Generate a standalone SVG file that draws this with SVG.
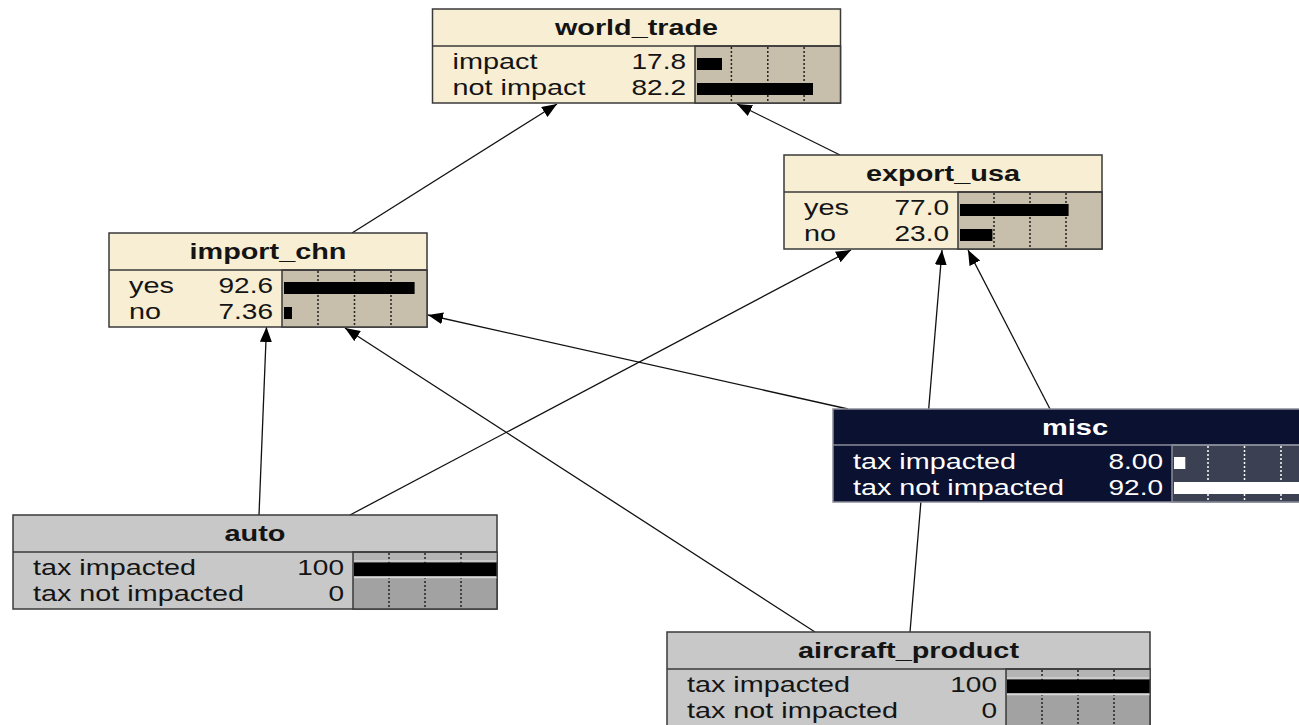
<svg xmlns="http://www.w3.org/2000/svg" width="1299" height="725" viewBox="0 0 1299 725">
<defs>
<style>
.t{font-family:"Liberation Sans",Arial,sans-serif;font-size:21.5px;font-weight:bold;fill:#141414}
.r{font-family:"Liberation Sans",Arial,sans-serif;font-size:22.5px;fill:#141414}
.w{fill:#ffffff}
.cream{fill:#f7eed3;stroke:#3a3a3a;stroke-width:1.5}
.tan{fill:#c7bfab;stroke:#3a3a3a;stroke-width:1.5}
.gray{fill:#c8c8c8;stroke:#3a3a3a;stroke-width:1.5}
.dgray{fill:#a2a2a2;stroke:#3a3a3a;stroke-width:1.5}
.navy{fill:#0b1130;stroke:#8a8c99;stroke-width:1.5}
.slate{fill:#3b4052;stroke:#8a8c99;stroke-width:1.5}
.div{stroke:#3a3a3a;stroke-width:1.5}
.divw{stroke:#8a8c99;stroke-width:1.5}
.tick{stroke:#222;stroke-width:1.5;stroke-dasharray:2 2}
.tickw{stroke:#ffffff;stroke-width:1.5;stroke-dasharray:2 2}
.bar{fill:#000}
.barw{fill:#fff}
.lite{stroke:#d8d8d8;stroke-width:1.5}
.band{fill:#b4b4b4}
.edge{stroke:#111;stroke-width:1.3;fill:none}
</style>
<marker id="ah" markerUnits="userSpaceOnUse" markerWidth="16" markerHeight="12" refX="15" refY="6" orient="auto">
<path d="M0,0 L15,6 L0,12 z" fill="#000"/>
</marker>
</defs>
<rect width="1299" height="725" fill="#fff"/>
<g id="connectors">
<line class="edge" x1="352" y1="233" x2="557" y2="104" marker-end="url(#ah)"/>
<line class="edge" x1="840" y1="155" x2="737" y2="104" marker-end="url(#ah)"/>
<line class="edge" x1="259" y1="515" x2="266.5" y2="327" marker-end="url(#ah)"/>
<line class="edge" x1="350" y1="515" x2="851" y2="250" marker-end="url(#ah)"/>
<line class="edge" x1="815" y1="632" x2="345" y2="328" marker-end="url(#ah)"/>
<line class="edge" x1="910" y1="632" x2="942" y2="250" marker-end="url(#ah)"/>
<line class="edge" x1="848" y1="409" x2="428" y2="315" marker-end="url(#ah)"/>
<line class="edge" x1="1050" y1="409" x2="968" y2="250" marker-end="url(#ah)"/>
</g>
<g id="world_trade">
<rect class="cream" x="432.5" y="9" width="408" height="94"/>
<rect class="tan" x="695" y="46" width="145.5" height="57"/>
<line class="div" x1="432.5" y1="46" x2="840.5" y2="46"/>
<line class="tick" x1="731.4" y1="47" x2="731.4" y2="103"/>
<line class="tick" x1="767.8" y1="47" x2="767.8" y2="103"/>
<line class="tick" x1="804.1" y1="47" x2="804.1" y2="103"/>
<rect class="bar" x="697" y="58" width="25" height="12"/>
<rect class="bar" x="697" y="83" width="116" height="12"/>
<text class="t" x="555" y="35" textLength="163" lengthAdjust="spacingAndGlyphs">world_trade</text>
<text class="r" x="452.5" y="69" textLength="85" lengthAdjust="spacingAndGlyphs">impact</text>
<text class="r" x="452.5" y="95" textLength="133" lengthAdjust="spacingAndGlyphs">not impact</text>
<text class="r" x="631.5" y="69" textLength="54.5" lengthAdjust="spacingAndGlyphs">17.8</text>
<text class="r" x="631.5" y="95" textLength="54.5" lengthAdjust="spacingAndGlyphs">82.2</text>
</g>
<g id="export_usa">
<rect class="cream" x="784" y="155" width="318" height="94"/>
<rect class="tan" x="958" y="192" width="144" height="57"/>
<line class="div" x1="784" y1="192" x2="1102" y2="192"/>
<line class="tick" x1="994" y1="193" x2="994" y2="249"/>
<line class="tick" x1="1030" y1="193" x2="1030" y2="249"/>
<line class="tick" x1="1066" y1="193" x2="1066" y2="249"/>
<rect class="bar" x="960" y="204" width="108.6" height="12"/>
<rect class="bar" x="960" y="229" width="32.4" height="12"/>
<text class="t" x="866" y="181" textLength="154" lengthAdjust="spacingAndGlyphs">export_usa</text>
<text class="r" x="804" y="215" textLength="45" lengthAdjust="spacingAndGlyphs">yes</text>
<text class="r" x="804" y="241" textLength="32" lengthAdjust="spacingAndGlyphs">no</text>
<text class="r" x="894.5" y="215" textLength="54.5" lengthAdjust="spacingAndGlyphs">77.0</text>
<text class="r" x="894.5" y="241" textLength="54.5" lengthAdjust="spacingAndGlyphs">23.0</text>
</g>
<g id="import_chn">
<rect class="cream" x="109" y="233" width="318" height="94"/>
<rect class="tan" x="282" y="270" width="145" height="57"/>
<line class="div" x1="109" y1="270" x2="427" y2="270"/>
<line class="tick" x1="318" y1="271" x2="318" y2="327"/>
<line class="tick" x1="354.5" y1="271" x2="354.5" y2="327"/>
<line class="tick" x1="391" y1="271" x2="391" y2="327"/>
<rect class="bar" x="284" y="282" width="130.6" height="12"/>
<rect class="bar" x="284" y="307" width="8" height="12"/>
<text class="t" x="189.5" y="259" textLength="157" lengthAdjust="spacingAndGlyphs">import_chn</text>
<text class="r" x="129" y="293" textLength="45" lengthAdjust="spacingAndGlyphs">yes</text>
<text class="r" x="129" y="319" textLength="32" lengthAdjust="spacingAndGlyphs">no</text>
<text class="r" x="218.5" y="293" textLength="54.5" lengthAdjust="spacingAndGlyphs">92.6</text>
<text class="r" x="218.5" y="319" textLength="54.5" lengthAdjust="spacingAndGlyphs">7.36</text>
</g>
<g id="misc">
<rect class="navy" x="833" y="409" width="484" height="93"/>
<rect class="slate" x="1172" y="445" width="145" height="57"/>
<line class="divw" x1="833" y1="445" x2="1317" y2="445"/>
<line class="tickw" x1="1208" y1="446" x2="1208" y2="502"/>
<line class="tickw" x1="1244.5" y1="446" x2="1244.5" y2="502"/>
<line class="tickw" x1="1281" y1="446" x2="1281" y2="502"/>
<rect class="barw" x="1174" y="457" width="11.3" height="12"/>
<rect class="barw" x="1174" y="482" width="129.7" height="12"/>
<text class="t w" x="1042" y="435" textLength="66" lengthAdjust="spacingAndGlyphs">misc</text>
<text class="r w" x="853" y="469" textLength="163" lengthAdjust="spacingAndGlyphs">tax impacted</text>
<text class="r w" x="853" y="495" textLength="211" lengthAdjust="spacingAndGlyphs">tax not impacted</text>
<text class="r w" x="1108.5" y="469" textLength="54.5" lengthAdjust="spacingAndGlyphs">8.00</text>
<text class="r w" x="1108.5" y="495" textLength="54.5" lengthAdjust="spacingAndGlyphs">92.0</text>
</g>
<g id="auto">
<rect class="gray" x="13" y="515" width="484" height="94"/>
<rect class="dgray" x="353" y="552" width="144" height="57"/>
<rect class="band" x="354" y="553" width="142.5" height="7"/>
<line class="div" x1="13" y1="552" x2="497" y2="552"/>
<line class="tick" x1="389" y1="553" x2="389" y2="609"/>
<line class="tick" x1="425" y1="553" x2="425" y2="609"/>
<line class="tick" x1="461" y1="553" x2="461" y2="609"/>
<line class="lite" x1="354" y1="561" x2="496.5" y2="561"/>
<line class="lite" x1="354" y1="577.5" x2="496.5" y2="577.5"/>
<rect class="bar" x="354" y="562.5" width="142.5" height="13.5"/>
<text class="t" x="224.5" y="541" textLength="61" lengthAdjust="spacingAndGlyphs">auto</text>
<text class="r" x="33" y="575" textLength="163" lengthAdjust="spacingAndGlyphs">tax impacted</text>
<text class="r" x="33" y="601" textLength="211" lengthAdjust="spacingAndGlyphs">tax not impacted</text>
<text class="r" x="297.3" y="575" textLength="46.7" lengthAdjust="spacingAndGlyphs">100</text>
<text class="r" x="328.4" y="601" textLength="15.6" lengthAdjust="spacingAndGlyphs">0</text>
</g>
<g id="aircraft_product">
<rect class="gray" x="667" y="632" width="483" height="94"/>
<rect class="dgray" x="1006" y="669" width="144" height="57"/>
<rect class="band" x="1007" y="670" width="142.5" height="7"/>
<line class="div" x1="667" y1="669" x2="1150" y2="669"/>
<line class="tick" x1="1042" y1="670" x2="1042" y2="726"/>
<line class="tick" x1="1078" y1="670" x2="1078" y2="726"/>
<line class="tick" x1="1114" y1="670" x2="1114" y2="726"/>
<line class="lite" x1="1007" y1="678" x2="1149.5" y2="678"/>
<line class="lite" x1="1007" y1="694.5" x2="1149.5" y2="694.5"/>
<rect class="bar" x="1007" y="679.5" width="142.5" height="13.5"/>
<text class="t" x="798" y="658" textLength="221" lengthAdjust="spacingAndGlyphs">aircraft_product</text>
<text class="r" x="687" y="692" textLength="163" lengthAdjust="spacingAndGlyphs">tax impacted</text>
<text class="r" x="687" y="718" textLength="211" lengthAdjust="spacingAndGlyphs">tax not impacted</text>
<text class="r" x="950.3" y="692" textLength="46.7" lengthAdjust="spacingAndGlyphs">100</text>
<text class="r" x="981.4" y="718" textLength="15.6" lengthAdjust="spacingAndGlyphs">0</text>
</g>
</svg>
